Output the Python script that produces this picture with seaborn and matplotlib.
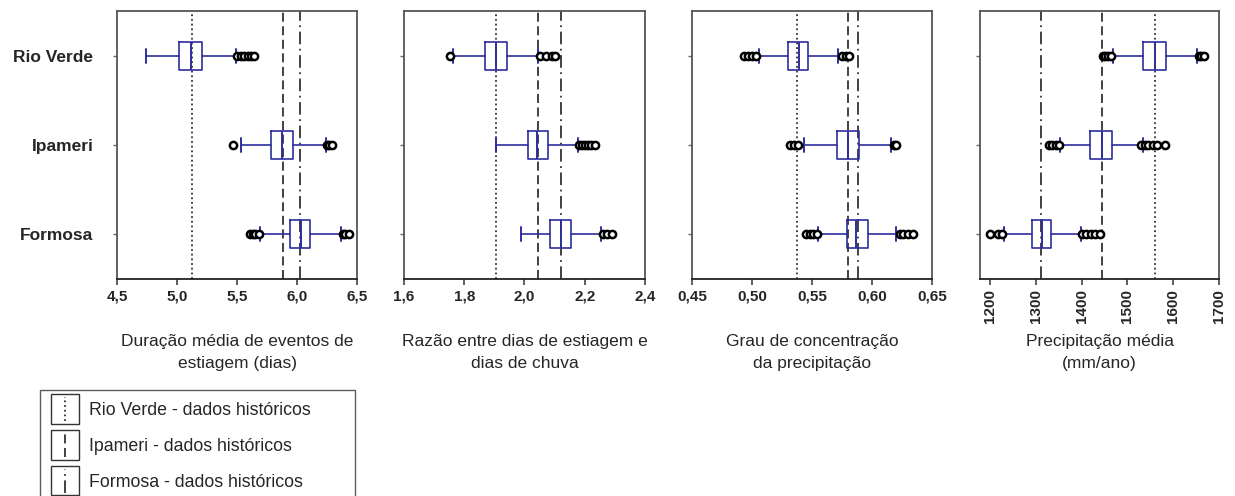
import numpy as np
import matplotlib
matplotlib.use("Agg")
import matplotlib.pyplot as plt
from matplotlib.patches import Rectangle
from matplotlib.lines import Line2D
from matplotlib.legend_handler import HandlerBase
import seaborn as sns

# estações (de cima para baixo)
stations = ["Rio Verde", "Ipameri", "Formosa"]

# painel 1 - duração média de eventos de estiagem (dias)
dur_whislo = [4.74, 5.53, 5.69]
dur_q1 = [5.02, 5.78, 5.94]
dur_med = [5.12, 5.875, 6.03]
dur_q3 = [5.21, 5.97, 6.11]
dur_whishi = [5.49, 6.24, 6.37]
dur_fliers = [[5.50, 5.53, 5.56, 5.59, 5.62, 5.64],
              [5.47, 6.25, 6.27, 6.29],
              [5.61, 5.63, 5.65, 5.68, 6.38, 6.40, 6.43]]
dur_hist = [5.125, 5.883, 6.028]

# painel 2 - razão entre dias de estiagem e dias de chuva
raz_whislo = [1.761, 1.907, 1.987]
raz_q1 = [1.868, 2.01, 2.086]
raz_med = [1.905, 2.043, 2.12]
raz_q3 = [1.942, 2.079, 2.156]
raz_whishi = [2.045, 2.176, 2.254]
raz_fliers = [[1.752, 2.052, 2.07, 2.09, 2.10],
              [2.18, 2.19, 2.20, 2.21, 2.22, 2.235],
              [2.26, 2.275, 2.29]]
raz_hist = [1.905, 2.044, 2.122]

# painel 3 - grau de concentração da precipitação
gc_whislo = [0.5057, 0.5436, 0.5553]
gc_q1 = [0.530, 0.5706, 0.579]
gc_med = [0.539, 0.580, 0.5868]
gc_q3 = [0.547, 0.5893, 0.5965]
gc_whishi = [0.5715, 0.616, 0.620]
gc_fliers = [[0.4935, 0.497, 0.500, 0.503, 0.575, 0.578, 0.581],
             [0.532, 0.535, 0.538, 0.618, 0.620],
             [0.545, 0.548, 0.551, 0.554, 0.623, 0.626, 0.630, 0.634]]
gc_hist = [0.5377, 0.5798, 0.5882]

# painel 4 - precipitação média (mm/ano)
pr_whislo = [1469, 1353, 1231]
pr_q1 = [1535, 1419, 1291]
pr_med = [1560, 1445, 1313]
pr_q3 = [1585, 1467, 1334]
pr_whishi = [1652, 1534, 1398]
pr_fliers = [[1447, 1452, 1458, 1464, 1656, 1661, 1667],
             [1329, 1336, 1343, 1350, 1530, 1538, 1546, 1555, 1565, 1582],
             [1200, 1218, 1225, 1400, 1410, 1420, 1430, 1440]]
pr_hist = [1560, 1445, 1311]

xlabels = ["Duração média de eventos de\nestiagem (dias)",
           "Razão entre dias de estiagem e\ndias de chuva",
           "Grau de concentração\nda precipitação",
           "Precipitação média\n(mm/ano)"]
xticks = [[4.5, 5.0, 5.5, 6.0, 6.5],
          [1.6, 1.8, 2.0, 2.2, 2.4],
          [0.45, 0.50, 0.55, 0.60, 0.65],
          [1200, 1300, 1400, 1500, 1600, 1700]]
tick_fmt = ["{:.1f}", "{:.1f}", "{:.2f}", "{:.0f}"]
xlims = [(4.5, 6.5), (1.6, 2.4), (0.45, 0.65), (1178, 1700)]
legend_labels = ["Rio Verde - dados históricos",
                 "Ipameri - dados históricos",
                 "Formosa - dados históricos"]

panels = [
    (dur_whislo, dur_q1, dur_med, dur_q3, dur_whishi, dur_fliers, dur_hist),
    (raz_whislo, raz_q1, raz_med, raz_q3, raz_whishi, raz_fliers, raz_hist),
    (gc_whislo, gc_q1, gc_med, gc_q3, gc_whishi, gc_fliers, gc_hist),
    (pr_whislo, pr_q1, pr_med, pr_q3, pr_whishi, pr_fliers, pr_hist),
]

sns.set_style("ticks")
plt.rcParams["font.family"] = ["Liberation Sans", "DejaVu Sans"]

BLUE = "#2e2e9e"
LINE = "#333333"
hist_styles = [(0, (1, 1.6)), (0, (5, 2.5)), (0, (7, 2.5, 1, 2.5))]

fig = plt.figure(figsize=(12.35, 4.96), dpi=100)
lefts = [117, 404, 692, 980]
widths = [240, 241, 240, 239]

axes = []
for i, (wlo, q1, med, q3, whi, fl, hist) in enumerate(panels):
    ax = fig.add_axes([lefts[i] / 1235, 1 - 279 / 496, widths[i] / 1235, 268 / 496])
    axes.append(ax)
    stats = []
    for k in range(len(stations)):
        stats.append(dict(whislo=wlo[k], q1=q1[k], med=med[k], q3=q3[k],
                          whishi=whi[k], fliers=fl[k], label=stations[k]))
    ax.bxp(stats, positions=range(len(stations)), vert=False, widths=0.31,
           showfliers=True, patch_artist=False,
           boxprops=dict(color=BLUE, lw=1.2),
           medianprops=dict(color=BLUE, lw=1.4),
           whiskerprops=dict(color=BLUE, lw=1.2),
           capprops=dict(color=BLUE, lw=1.4),
           flierprops=dict(marker="o", markerfacecolor="white",
                           markeredgecolor="black", markersize=5.2,
                           markeredgewidth=1.8))
    for h, ls in zip(hist, hist_styles):
        ax.axvline(h, color=LINE, lw=1.3, ls=ls, zorder=0)

    ax.set_ylim(2.5, -0.5)
    ax.set_xlim(*xlims[i])
    ax.set_xticks(xticks[i])
    ax.set_xticklabels([tick_fmt[i].format(t).replace(".", ",") for t in xticks[i]],
                       fontsize=11, fontweight="bold")
    ax.set_yticks(range(len(stations)))
    if i == 0:
        ax.set_yticklabels(stations, fontsize=12.5, fontweight="bold")
        ax.tick_params(axis="y", pad=14)
    else:
        ax.set_yticklabels([])
    if i == 3:
        plt.setp(ax.get_xticklabels(), rotation=90)
    ax.tick_params(axis="x", length=4, width=1.2, color="#444444")
    ax.tick_params(axis="y", length=3, width=1.0, color="#666666")
    for sp in ax.spines.values():
        sp.set_color("#555555")
        sp.set_linewidth(1.3)
    ax.spines["bottom"].set_color("#222222")
    ax.set_xlabel(xlabels[i], fontsize=12.5, linespacing=1.6)
    ax.xaxis.set_label_coords(0.5, -0.205)
    ax.xaxis.label.set_va("top")


class BoxLineHandler(HandlerBase):
    def __init__(self, ls):
        super().__init__()
        self.ls = ls

    def create_artists(self, legend, orig_handle, xdescent, ydescent,
                       width, height, fontsize, trans):
        x0 = -xdescent
        y0 = -ydescent
        w = width
        h = fontsize * 1.66
        yb = y0 + height / 2 - h / 2
        rect = Rectangle((x0, yb), w, h, fill=False,
                         edgecolor="#333333", lw=1.0, transform=trans)
        ln = Line2D([x0 + w / 2, x0 + w / 2], [yb + 2, yb + h - 2],
                    color="#333333", lw=1.3, ls=self.ls, transform=trans)
        return [rect, ln]


handles = [Line2D([], []) for _ in legend_labels]
leg = fig.legend(handles, legend_labels, loc="upper left", mode="expand",
                 bbox_to_anchor=(40 / 1235, 0, 315 / 1235, 1 - 390 / 496),
                 handler_map={h: BoxLineHandler(ls) for h, ls in zip(handles, hist_styles)},
                 fontsize=12.8, frameon=True, fancybox=False, edgecolor="#333333",
                 handlelength=1.55, handleheight=1.0, handletextpad=0.6,
                 labelspacing=1.0, borderpad=0.62, borderaxespad=0)
leg.get_frame().set_linewidth(1.0)

fig.savefig("out.png", dpi=100)
